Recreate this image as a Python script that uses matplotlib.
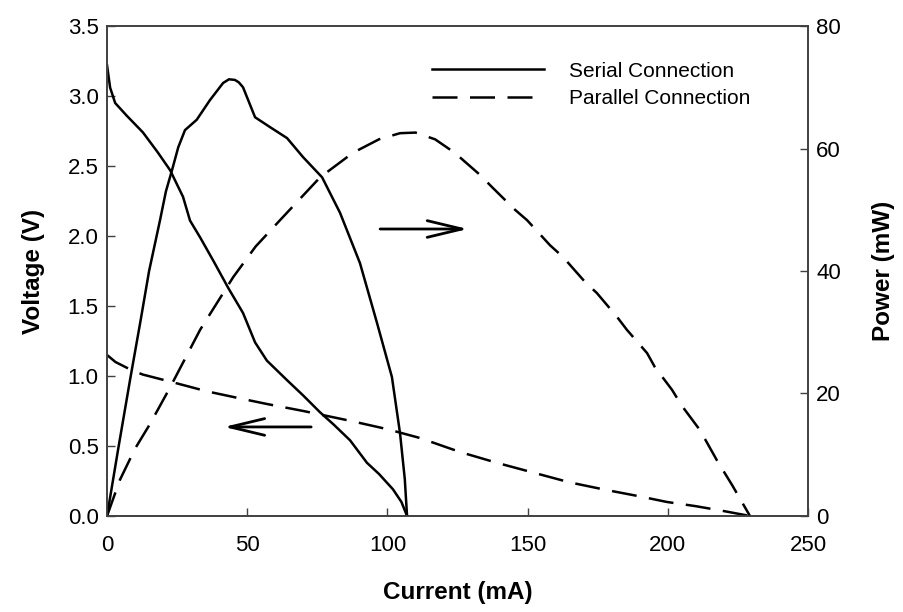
import matplotlib
matplotlib.use("Agg")
import matplotlib.pyplot as plt
from matplotlib.lines import Line2D

plt.rcParams['font.family'] = ['Liberation Sans', 'DejaVu Sans']

# serial connection: current (mA), voltage (V)
serial_i_v = [0, 1.1, 2.9, 7, 12.8, 18, 22.5, 27.1, 29.6, 33.2, 38, 43.2, 48.5, 52.8,
              57, 64.2, 70, 76, 81, 86.7, 92.7, 97, 102, 105, 107]
serial_v = [3.22, 3.06, 2.95, 2.86, 2.74, 2.60, 2.47, 2.28, 2.11, 1.99, 1.82, 1.63, 1.45, 1.24,
            1.11, 0.97, 0.86, 0.74, 0.65, 0.54, 0.38, 0.30, 0.19, 0.10, 0.0]

# serial connection: current (mA), power (mW)
serial_i_p = [0, 4, 8.2, 12, 15, 18.9, 21, 23.2, 25.4, 27.8, 32, 36.7, 41.4, 43.5, 45.6, 47,
              48.5, 52.8, 58.1, 64.2, 69.9, 76.7, 83.1, 90.2, 96.3, 101.6, 104.5, 106.2, 107]
serial_p = [0, 11, 22.2, 32, 40, 48.3, 53, 56.5, 60.2, 63, 64.7, 67.9, 70.7, 71.3, 71.2, 70.8,
            70, 65.1, 63.5, 61.7, 58.6, 55.3, 49.5, 41.3, 31.5, 22.7, 13.5, 6, 0]

# parallel connection: current (mA), voltage (V)
parallel_i_v = [0, 3, 8.9, 12.8, 22.5, 35.7, 47.4, 57, 70, 86.7, 100, 111.6, 125.9, 139,
                152, 165, 178, 190, 199.7, 210, 220, 229.3]
parallel_v = [1.15, 1.10, 1.04, 1.01, 0.96, 0.89, 0.84, 0.80, 0.75, 0.68, 0.62, 0.557, 0.457, 0.38,
              0.31, 0.24, 0.186, 0.14, 0.10, 0.07, 0.035, 0.0]

# parallel connection: current (mA), power (mW)
parallel_i_p = [0, 4.6, 10, 15.3, 22.5, 33.2, 45, 53, 61.7, 76, 87.7, 97, 104.5, 110, 117, 124,
                133, 137.3, 145.5, 149.8, 158, 162.6, 170.5, 174.7, 181.9, 185.4, 192.6, 195.4,
                201.5, 205, 211.5, 217.5, 223, 229.3]
parallel_p = [0, 5.9, 11, 15, 21, 30.4, 39, 44, 48.3, 55.3, 59.3, 61.5, 62.5, 62.6, 61.5, 59.3,
              55.7, 53.7, 50, 48.3, 44.2, 42.3, 38.2, 36.4, 32.5, 30.4, 26.6, 24.3,
              20.6, 18, 14, 9.1, 5, 0]

DASH = (0, (10, 5))
LW = 1.8
SPINE = '#404040'

fig = plt.figure(figsize=(9.04, 6.12), dpi=100)
ax = fig.add_axes([0.1184, 0.1569, 0.7754, 0.8006])
ax2 = ax.twinx()

ax.plot(serial_i_v, serial_v, color='black', lw=LW)
ax.plot(parallel_i_v, parallel_v, color='black', lw=LW, linestyle=DASH)
ax2.plot(serial_i_p, serial_p, color='black', lw=LW)
ax2.plot(parallel_i_p, parallel_p, color='black', lw=LW, linestyle=DASH)

ax.set_xlim(0, 250)
ax.set_ylim(0, 3.5)
ax2.set_ylim(0, 80)
ax.set_xticks([0, 50, 100, 150, 200, 250])
ax.set_yticks([0, 0.5, 1.0, 1.5, 2.0, 2.5, 3.0, 3.5])
ax.set_yticklabels(['0.0', '0.5', '1.0', '1.5', '2.0', '2.5', '3.0', '3.5'])
ax2.set_yticks([0, 20, 40, 60, 80])

for a in (ax, ax2):
    for s in a.spines.values():
        s.set_color(SPINE)
        s.set_linewidth(1.2)
    a.tick_params(direction='in', length=6, width=1, color=SPINE, labelsize=16, pad=6)
ax.tick_params(axis='x', pad=14)

ax.set_xlabel('Current (mA)', fontsize=17.5, fontweight='bold', labelpad=18)
ax.set_ylabel('Voltage (V)', fontsize=17.5, fontweight='bold', labelpad=16)
ax2.set_ylabel('Power (mW)', fontsize=17.5, fontweight='bold', labelpad=22)

arrow = dict(arrowstyle='->, head_length=1.25, head_width=0.3', lw=2, color='black',
             mutation_scale=20, shrinkA=0, shrinkB=0)
ax.annotate('', xy=(128.7, 2.05), xytext=(97.4, 2.05), arrowprops=arrow)
ax.annotate('', xy=(41.7, 0.636), xytext=(72.8, 0.636), arrowprops=arrow)

handles = [Line2D([], [], color='black', lw=LW),
           Line2D([], [], color='black', lw=LW, linestyle=DASH)]
ax2.legend(handles, ['Serial Connection', 'Parallel Connection'], loc='upper left',
           bbox_to_anchor=(0.4636, 0.927), frameon=False, fontsize=15,
           handlelength=5.4, handletextpad=1.2, labelspacing=0.4, borderpad=0,
           borderaxespad=0)

fig.savefig('out.png', dpi=100)
